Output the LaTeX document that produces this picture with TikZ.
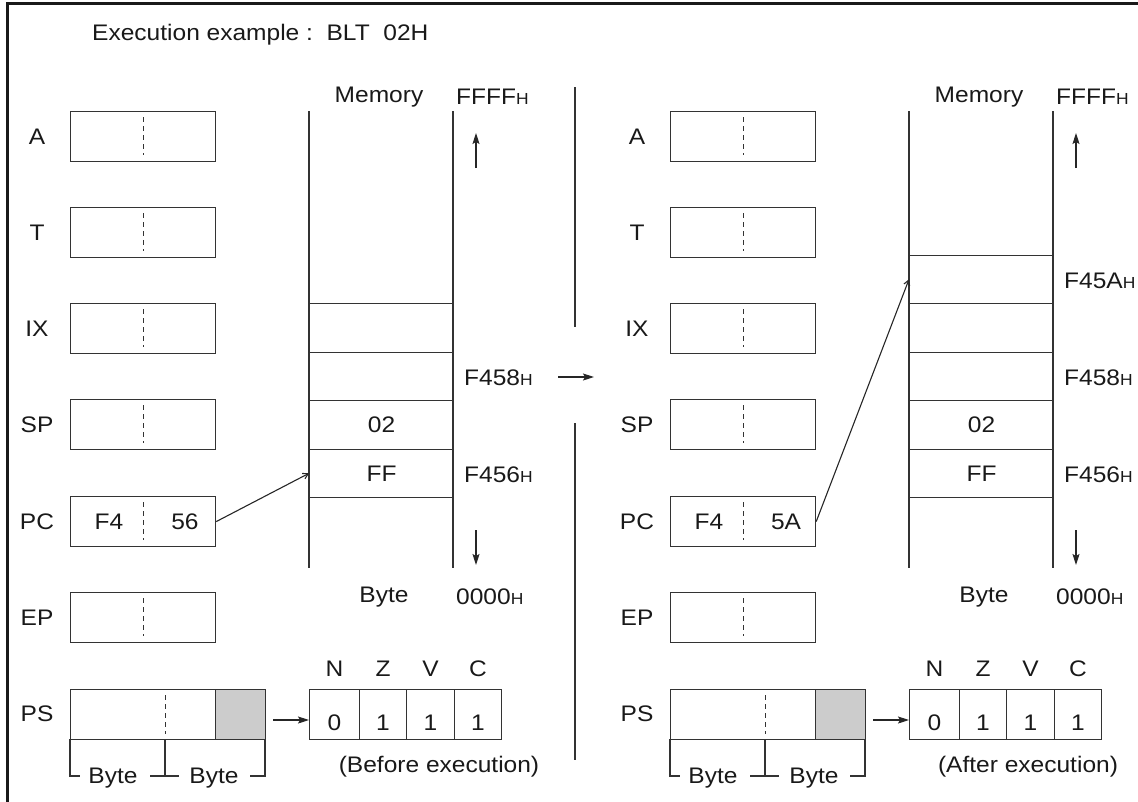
\documentclass[tikz,border=0pt]{standalone}
\usepackage{fontspec}
\setmainfont{Liberation Sans}[FakeStretch=1.09]
\usetikzlibrary{arrows.meta}
\newcommand\smallH{{\fontsize{16}{16}\selectfont H}}
\begin{document}
\begin{tikzpicture}[x=1pt,y=-1pt,
  every node/.style={font=\fontsize{22.5}{24}\selectfont, inner sep=0pt, text=black!90},
  regbox/.style={draw=black!80, line width=1.2pt, minimum width=145pt, minimum height=50pt, anchor=north west},
  regdash/.style={draw=black!80, line width=1pt, dash pattern=on 5pt off 4pt},
  memcell/.style={draw=black!80, line width=1.1pt, minimum width=144pt, minimum height=48.5pt, anchor=north west},
  memline/.style={draw=black!80, line width=1.1pt},
  flagcell/.style={draw=black!80, line width=1.1pt, minimum height=50pt, anchor=north west},
  graycell/.style={draw=black!80, line width=1.2pt, fill=black!20, minimum width=50pt, minimum height=50pt, anchor=north west},
  thinline/.style={draw=black!80, line width=1.1pt},
  bigarrow/.style={draw=black!85, line width=1.1pt, -{Stealth[length=11pt,width=7pt,inset=2pt]}},
  ptrarrow/.style={draw=black!85, line width=1.1pt, -{Straight Barb[length=5pt,width=6pt]}},
]
\useasboundingbox (0,0) rectangle (1138,801);
% frame
\draw[line width=3pt, black!90] (1140,3) -- (7,3) -- (7,805);
% title
\node[anchor=west] (title) at (92,35) {Execution example :\ \ BLT\ \ 02H};

% middle divider
\coordinate (dv1) at (575,87);
\coordinate (dv2) at (575,327);
\coordinate (dv3) at (575,423);
\coordinate (dv4) at (575,760);
\draw[thinline] (dv1) -- (dv2);
\draw[thinline] (dv3) -- (dv4);
\coordinate (ma1) at (558,377);
\coordinate (ma2) at (594,377);
\draw[bigarrow] (ma1) -- (ma2);

\foreach \p/\s in {L/0,R/600}{
  \begin{scope}[xshift=\s pt]
  % registers
  \foreach \n/\y in {A/111,T/207,IX/303,SP/399,PC/496,EP/592}{
    \node[regbox] (\p\n) at (70,\y) {};
    \node (\p lab\n) at (37,\y+26) {\n};
    \draw[regdash] ([yshift=-6pt]\p\n.north) -- ([yshift=7pt]\p\n.south);
  }
  \node (\p pchi) at (109,522) {F4};
  % PS
  \node[regbox] (\p PS) at (70,689) {};
  \node[graycell] (\p PSg) at (215,689) {};
  \node (\p labPS) at (37,714) {PS};
  \draw[regdash] (165,695) -- (165,734);
  \coordinate (\p b0) at (70,739);
  \coordinate (\p b1) at (165,739);
  \coordinate (\p b2) at (265,739);
  \node (\p byteA) at (113,778) {Byte};
  \node (\p byteB) at (214,778) {Byte};
  \draw[thinline] (\p b0) -- (70,776) -- (80,776);
  \draw[thinline] (\p b1) -- (165,776);
  \draw[thinline] (150,776) -- (179,776);
  \draw[thinline] (\p b2) -- (265,776) -- (250,776);
  % flags
  \node[flagcell, minimum width=50pt] (\p f1) at (309,689) {};
  \node[flagcell, minimum width=47pt] (\p f2) at (359,689) {};
  \node[flagcell, minimum width=48pt] (\p f3) at (406,689) {};
  \node[flagcell, minimum width=47pt] (\p f4) at (454,689) {};
  \node (\p v1) at ([yshift=-8pt]\p f1.center) {0};
  \node (\p v2) at ([yshift=-8pt]\p f2.center) {1};
  \node (\p v3) at ([yshift=-8pt]\p f3.center) {1};
  \node (\p v4) at ([yshift=-8pt]\p f4.center) {1};
  \node (\p N) at (\p f1.center |- 0,669) {N};
  \node (\p Z) at (\p f2.center |- 0,669) {Z};
  \node (\p V) at (\p f3.center |- 0,669) {V};
  \node (\p C) at (\p f4.center |- 0,669) {C};
  \coordinate (\p psa) at (273,720);
  \draw[bigarrow] (\p psa) -- (\p f1.west |- \p psa);
  % memory
  \coordinate (\p m1) at (309,111);
  \coordinate (\p m2) at (309,568);
  \coordinate (\p m3) at (453,111);
  \coordinate (\p m4) at (453,568);
  \draw[memline] (\p m1) -- (\p m2);
  \draw[memline] (\p m3) -- (\p m4);
  \node[memcell] (\p c1) at (309,303) {};
  \node[memcell] (\p c2) at (309,351.5) {};
  \node[memcell] (\p c3) at (309,400) {02};
  \node[memcell] (\p c4) at (309,448.5) {FF};
  \node (\p mem) at (379,97) {Memory};
  \node[anchor=west] (\p top) at (456,97) {FFFF\smallH};
  \node[anchor=west] (\p a58) at (464,378) {F458\smallH};
  \node[anchor=west] (\p a56) at (464,475) {F456\smallH};
  \node (\p byte) at (384,597) {Byte};
  \node[anchor=west] (\p bot) at (456,597) {0000\smallH};
  \coordinate (\p up1) at (476,168);
  \coordinate (\p up2) at (476,133);
  \coordinate (\p dn1) at (476,530);
  \coordinate (\p dn2) at (476,565);
  \draw[bigarrow] (\p up1) -- (\p up2);
  \draw[bigarrow] (\p dn1) -- (\p dn2);
  \end{scope}
}

% left panel specifics
\node (Lpclo) at (185,522) {56};
\draw[ptrarrow] (LPC.east) -- (Lc4.west);
\node (Lcap) at (439,767) {(Before execution)};

% right panel specifics
\node (Rpclo) at (786,522) {5A};
\node[memcell] (Rc0) at (909,254.5) {};
\node[anchor=west] (Ra5A) at (1064,281) {F45A\smallH};
\draw[ptrarrow] (RPC.east) -- (Rc0.west);
\node (Rcap) at (1028,767) {(After execution)};
\end{tikzpicture}
\end{document}
